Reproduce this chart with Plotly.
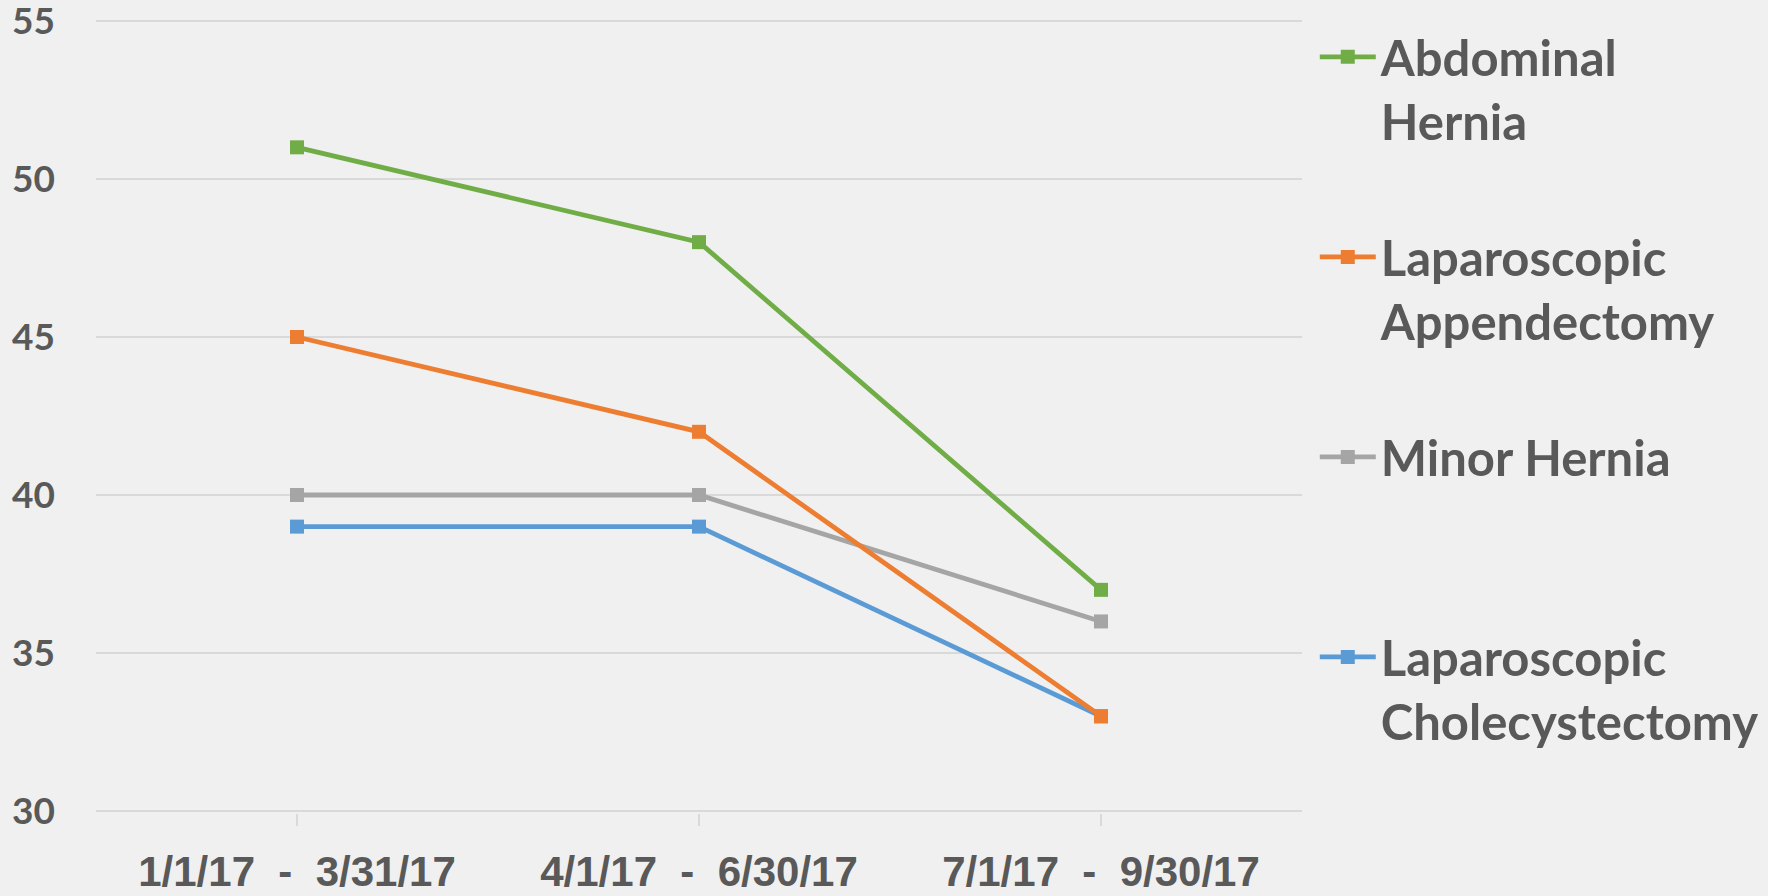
import plotly.graph_objects as go

categories = ["1/1/17&nbsp;&nbsp;-&nbsp;&nbsp;3/31/17", "4/1/17&nbsp;&nbsp;-&nbsp;&nbsp;6/30/17", "7/1/17&nbsp;&nbsp;-&nbsp;&nbsp;9/30/17"]
series_names = ["Abdominal<br>Hernia", "Laparoscopic<br>Appendectomy", "Minor Hernia", "Laparoscopic<br>Cholecystectomy"]
abdominal_hernia = [51, 48, 37]
lap_appendectomy = [45, 42, 33]
minor_hernia = [40, 40, 36]
lap_cholecystectomy = [39, 39, 33]
y_ticks = [30, 35, 40, 45, 50, 55]

series_values = [abdominal_hernia, lap_appendectomy, minor_hernia, lap_cholecystectomy]
colors = ["#70AD47", "#ED7D31", "#A5A5A5", "#5B9BD5"]
legend_ids = ["legend", "legend2", "legend3", "legend4"]
legend_y = [1.0006, 0.7487, 0.4968, 0.2449]

fig = go.Figure()
order = [3, 2, 1, 0]
for i in order:
    fig.add_trace(go.Scatter(
        x=categories, y=series_values[i], name=series_names[i],
        mode="lines+markers",
        line=dict(color=colors[i], width=4.8),
        marker=dict(symbol="square", size=14, color=colors[i]),
        legend=legend_ids[i],
    ))

text_color = "#595959"
legend_common = dict(
    font=dict(family="Lato", size=49, color=text_color, weight="bold"),
    bgcolor="rgba(0,0,0,0)", x=1.0106, xanchor="left", yanchor="top",
    valign="top", itemwidth=56, borderwidth=0,
)
layout_legends = {}
for k, lid in enumerate(legend_ids):
    layout_legends[lid] = dict(legend_common, y=legend_y[k])

fig.update_layout(
    width=1768, height=896,
    margin=dict(l=96, r=466, t=19, b=83, autoexpand=False),
    paper_bgcolor="#F0F0F0", plot_bgcolor="rgba(0,0,0,0)",
    showlegend=True,
    **layout_legends,
)
fig.update_xaxes(
    type="category", range=[-0.5, 2.5],
    showgrid=False, showline=False,
    ticks="outside", ticklen=12, tickcolor="#D9D9D9", tickwidth=1.5,
    tickfont=dict(family="Liberation Sans", size=42, color=text_color, weight="bold"),
    ticklabelstandoff=10,
)
fig.update_yaxes(
    range=[29.94, 55.06], tickvals=y_ticks,
    showgrid=True, gridcolor="#D9D9D9", gridwidth=1.5,
    zeroline=False, showline=False,
    tickfont=dict(family="Lato", size=37, color=text_color, weight="bold"),
    ticklabelstandoff=40, ticklabeloverflow="allow",
)
fig.write_html(
    "out.html",
    config={"displayModeBar": False},
    post_script="document.body.style.margin='0';document.body.style.background='#F0F0F0';",
)
